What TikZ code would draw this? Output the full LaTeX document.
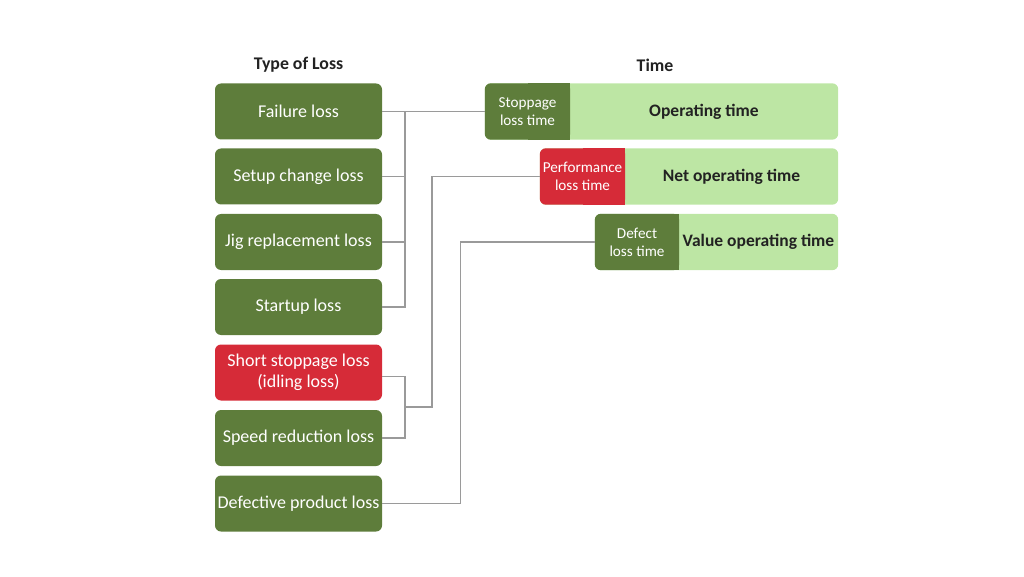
\documentclass[tikz,border=0pt]{standalone}
\usepackage{fontspec}
\setmainfont{Carlito}
\usetikzlibrary{backgrounds}
\definecolor{lossgreen}{HTML}{5E7D3B}
\definecolor{timegreen}{HTML}{BDE6A4}
\definecolor{lossred}{HTML}{D62B38}
\definecolor{linkgray}{HTML}{9A9A9A}
\definecolor{titletext}{HTML}{222222}
\begin{document}
\begin{tikzpicture}[x=1pt, y=-1pt,
 title/.style={font=\fontsize{17.8}{20}\selectfont\bfseries, text=titletext},
 lossbox/.style={rectangle, rounded corners=6pt, fill=lossgreen, text=white, minimum width=167pt, minimum height=56pt, inner sep=1pt, align=center, font=\fontsize{18}{21}\selectfont},
 tag/.style={rectangle, minimum width=85pt, minimum height=56pt, inner sep=1pt, align=center, text=white, font=\fontsize{15.2}{18}\selectfont},
 part/.style={rectangle, minimum height=56pt, inner sep=1pt, text=titletext, font=\fontsize{17.5}{20}\selectfont\bfseries},
 link/.style={draw=linkgray, line width=1.3pt}]
 \useasboundingbox (0,0) rectangle (1024,577);

 \draw node[title] (typeloss) at (298.5,65) {Type of Loss};
 \draw node[title] (time) at (655,65) {Time};

 \draw node[lossbox] (fail) at (298.5,111.5) {Failure loss};
 \draw node[lossbox] (setup) at (298.5,176.5) {Setup change loss};
 \draw node[lossbox] (jig) at (298.5,242) {Jig replacement loss};
 \draw node[lossbox] (start) at (298.5,307) {Startup loss};
 \draw node[lossbox, fill=lossred] (short) at (298.5,372.5) {Short stoppage loss\\(idling loss)};
 \draw node[lossbox] (speed) at (298.5,438) {Speed reduction loss};
 \draw node[lossbox] (defect) at (298.5,503.5) {Defective product loss};

 \draw node[tag] (stop) at (527.5,111.5) {Stoppage\\loss time};
 \draw node[part, minimum width=268pt] (optime) at (704,111.5) {Operating time};
 \draw node[tag, minimum width=85pt] (perf) at (582.5,176.5) {Performance\\loss time};
 \draw node[part, minimum width=213pt] (nettime) at (731.5,176.5) {Net operating time};
 \draw node[tag, minimum width=84pt] (deftime) at (637,242) {Defect\\loss time};
 \draw node[part, minimum width=159pt] (valtime) at (758.5,242) {Value operating time};

 \begin{scope}[on background layer]
 \fill[timegreen, rounded corners=6pt] (stop.north west) rectangle (optime.south east);
 \fill[timegreen, rounded corners=6pt] (perf.north west) rectangle (nettime.south east);
 \fill[timegreen, rounded corners=6pt] (deftime.north west) rectangle (valtime.south east);
 \fill[lossgreen, rounded corners=6pt] (stop.north west) rectangle (stop.south east);
 \fill[lossgreen] (stop.north) rectangle (stop.south east);
 \fill[lossred, rounded corners=6pt] (perf.north west) rectangle (perf.south east);
 \fill[lossred] (perf.north) rectangle (perf.south east);
 \fill[lossgreen, rounded corners=6pt] (deftime.north west) rectangle (deftime.south east);
 \fill[lossgreen] (deftime.north) rectangle (deftime.south east);
 \end{scope}

 \coordinate (j1) at (405,111.5);
 \coordinate (j2) at (405,407);
 \coordinate (k2) at (432,407);
 \coordinate (k3) at (460.5,503.5);

 \draw[link] (fail.east) -- (stop.west);
 \draw[link] (setup.east) -- (setup.east -| j1);
 \draw[link] (jig.east) -- (jig.east -| j1);
 \draw[link] (start.east) -- (start.east -| j1) -- (j1);

 \draw[link] ([yshift=-4pt]short.east) -| (j2);
 \draw[link] (speed.east) -| (j2) -- (k2) |- (perf.west);

 \draw[link] (defect.east) -- (k3) |- (deftime.west);
\end{tikzpicture}
\end{document}
